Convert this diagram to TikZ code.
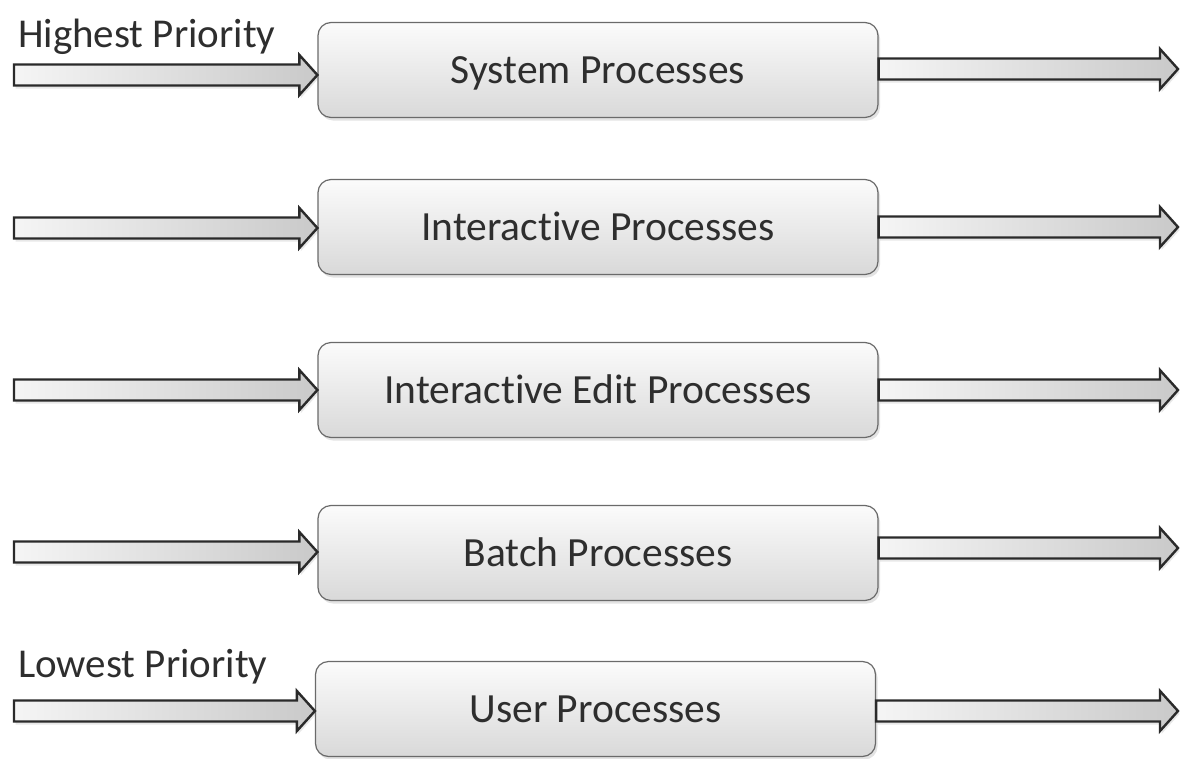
\documentclass[tikz,border=0pt]{standalone}
\usepackage{fontspec}
\setmainfont{Carlito}[Ligatures=NoCommon]
\usetikzlibrary{calc,shadows}
\definecolor{txt}{HTML}{2E2E2E}
\definecolor{boxedge}{HTML}{6A6A6A}
\definecolor{arredge}{HTML}{2A2A2A}
\newcommand\fatarr[2]{%
  \path[fatarrow] let \p1=(#1), \p2=(#2) in
    (\x1,\y1+10.5pt) -- (\x2-18pt,\y1+10.5pt) -- (\x2-18pt,\y1+20pt) -- (\x2,\y1)
    -- (\x2-18pt,\y1-20pt) -- (\x2-18pt,\y1-10.5pt) -- (\x1,\y1-10.5pt) -- cycle;}
\begin{document}
\begin{tikzpicture}[x=1pt,y=-1pt,
  procbox/.style={draw=boxedge, line width=1.2pt, rounded corners=13pt,
    top color=gray!3, bottom color=gray!30, minimum width=560pt, minimum height=95pt,
    inner sep=0pt, text height=26pt, text depth=0pt, text=txt,
    font=\fontsize{41.5}{48}\selectfont,
    drop shadow={opacity=0.22, shadow xshift=2pt, shadow yshift=-3pt}},
  fatarrow/.style={draw=arredge, line width=2.4pt, line join=miter,
    left color=gray!8, right color=gray!42,
    drop shadow={opacity=0.18, shadow xshift=1.5pt, shadow yshift=-3pt}},
  prio/.style={anchor=base west, inner sep=0pt, text=txt, font=\fontsize{41}{48}\selectfont}]
\useasboundingbox[fill=white] (0,0) rectangle (1181,758);

% labels
\node[prio] (hp) at (18,47) {Highest Priority};
\node[prio] (lp) at (18,677) {Lowest Priority};

% boxes
\node[procbox] (b1) at (598,70)  {System Processes};
\node[procbox] (b2) at (598,227) {Interactive Processes};
\node[procbox] (b3) at (598,390) {Interactive Edit Processes};
\node[procbox] (b4) at (598,553) {Batch Processes};
\node[procbox] (b5) at (595.5,709) {User Processes};

% arrow end coordinates
\coordinate (l1) at (14,75);
\coordinate (l2) at (14,228);
\coordinate (l3) at (14,390);
\coordinate (l4) at (14,552);
\coordinate (l5) at (14,711);
\coordinate (r1) at (1178,69);
\coordinate (r2) at (1178,227);
\coordinate (r3) at (1178,390);
\coordinate (r4) at (1178,548);
\coordinate (r5) at (1178,711);

% left arrows
\fatarr{l1}{b1.west |- l1}
\fatarr{l2}{b2.west |- l2}
\fatarr{l3}{b3.west |- l3}
\fatarr{l4}{b4.west |- l4}
\fatarr{l5}{b5.west |- l5}

% right arrows
\fatarr{b1.east |- r1}{r1}
\fatarr{b2.east |- r2}{r2}
\fatarr{b3.east |- r3}{r3}
\fatarr{b4.east |- r4}{r4}
\fatarr{b5.east |- r5}{r5}
\end{tikzpicture}
\end{document}
